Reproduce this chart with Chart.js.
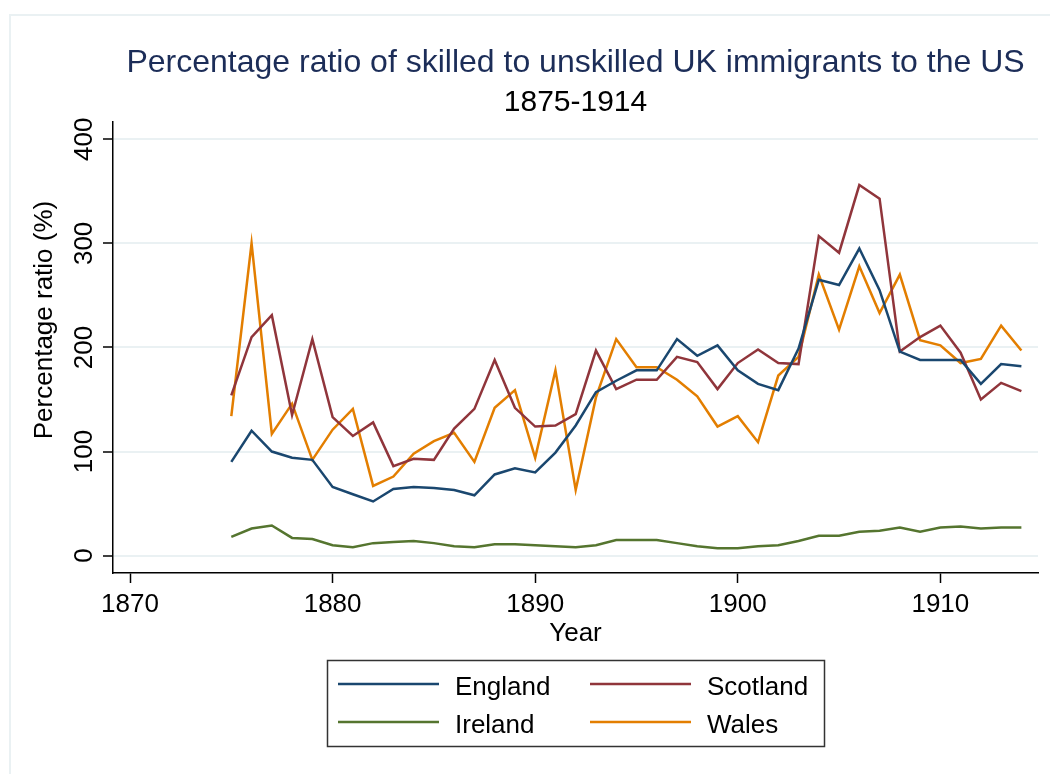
<!DOCTYPE html>
<html>
<head>
<meta charset="utf-8">
<title>Skilled to unskilled UK immigrants</title>
<script src="https://cdn.jsdelivr.net/npm/chart.js@4.4.1/dist/chart.umd.min.js"></script>
<style>
	body { margin: 0; background: #fff; }
	canvas { display: block; }
</style>
</head>
<body>
<canvas id="chart" width="1050" height="774"></canvas>
<script>
/*************************
DATA
*************************/

const years = [1875, 1876, 1877, 1878, 1879, 1880, 1881, 1882, 1883, 1884,
	1885, 1886, 1887, 1888, 1889, 1890, 1891, 1892, 1893, 1894,
	1895, 1896, 1897, 1898, 1899, 1900, 1901, 1902, 1903, 1904,
	1905, 1906, 1907, 1908, 1909, 1910, 1911, 1912, 1913, 1914];

const england = [90, 120, 100, 94, 92, 66, 59, 52, 64, 66,
	65, 63, 58, 78, 84, 80, 99, 125, 157, 168,
	178, 178, 208, 192, 202, 178, 165, 159, 199, 265,
	260, 295, 255, 196, 188, 188, 188, 165, 184, 182];

const scotland = [154, 210, 231, 135, 208, 133, 115, 128, 86, 93,
	92, 122, 141, 188, 142, 124, 125, 136, 197, 160,
	169, 169, 191, 186, 160, 185, 198, 185, 184, 307,
	291, 356, 343, 196, 210, 221, 195, 150, 166, 158];

const ireland = [18, 26, 29, 17, 16, 10, 8, 12, 13, 14,
	12, 9, 8, 11, 11, 10, 9, 8, 10, 15,
	15, 15, 12, 9, 7, 7, 9, 10, 14, 19,
	19, 23, 24, 27, 23, 27, 28, 26, 27, 27];

const wales = [134, 300, 117, 146, 92, 121, 141, 67, 76, 98,
	110, 118, 90, 142, 159, 94, 178, 63, 152, 208,
	181, 181, 169, 153, 124, 134, 109, 173, 191, 270,
	217, 278, 233, 270, 207, 202, 185, 189, 221, 197];

const xTicks = [1870, 1880, 1890, 1900, 1910];
const yTicks = [0, 100, 200, 300, 400];

const titleText = 'Percentage ratio of skilled to unskilled UK immigrants to the US';
const subtitleText = '1875-1914';
const xTitle = 'Year';
const yTitle = 'Percentage ratio (%)';

/*************************
STYLE
*************************/

const fontFamily = '"Liberation Sans", Arial, sans-serif';
const gridColor = '#eaf1f3';
const englandColor = '#1a476f';
const scotlandColor = '#90353b';
const irelandColor = '#55752f';
const walesColor = '#e37e00';

Chart.defaults.font.family = fontFamily;

//pairs a series with the years so the linear x scale can place it
function ToPoints(values){
	return values.map((v, i) => ({x: years[i], y: v}));
}

function MakeDataset(label, values, color){
	return {
		label: label,
		data: ToPoints(values),
		borderColor: color,
		backgroundColor: color,
		borderWidth: 2.5,
		pointRadius: 0,
		tension: 0,
		fill: false,
	};
}

/*************************
DECORATION PLUGIN
*************************/

//frame, titles, rotated y labels and the boxed legend
const decorations = {
	id: 'decorations',
	beforeDraw(chart){
		const ctx = chart.ctx;
		ctx.save();
		ctx.fillStyle = '#fff';
		ctx.fillRect(0, 0, chart.width, chart.height);
		ctx.strokeStyle = gridColor;
		ctx.lineWidth = 2;
		ctx.beginPath();
		ctx.moveTo(10, chart.height + 5);
		ctx.lineTo(10, 15);
		ctx.lineTo(chart.width + 5, 15);
		ctx.stroke();
		ctx.restore();
	},
	afterDraw(chart){
		const ctx = chart.ctx;
		const area = chart.chartArea;
		const yScale = chart.scales.y;
		const midX = (area.left + area.right) / 2;
		ctx.save();

		//titles
		ctx.textAlign = 'center';
		ctx.textBaseline = 'alphabetic';
		ctx.fillStyle = '#1c2d58';
		ctx.font = '32px ' + fontFamily;
		ctx.fillText(titleText, midX, 72);
		ctx.fillStyle = '#000';
		ctx.font = '30px ' + fontFamily;
		ctx.fillText(subtitleText, midX, 111);

		//x axis title
		ctx.font = '26px ' + fontFamily;
		ctx.fillText(xTitle, midX, 641);

		//y tick labels, rotated
		yScale.ticks.forEach(t => {
			const py = yScale.getPixelForValue(t.value);
			ctx.save();
			ctx.translate(92, py);
			ctx.rotate(-Math.PI / 2);
			ctx.textAlign = 'center';
			ctx.fillText(String(t.value), 0, 0);
			ctx.restore();
		});

		//y axis title
		ctx.save();
		ctx.translate(52, 320);
		ctx.rotate(-Math.PI / 2);
		ctx.textAlign = 'center';
		ctx.fillText(yTitle, 0, 0);
		ctx.restore();

		//legend box
		ctx.strokeStyle = '#333';
		ctx.lineWidth = 1.5;
		ctx.strokeRect(327.5, 660.5, 497, 86);
		const slots = [
			{x: 338, y: 684},
			{x: 590, y: 684},
			{x: 338, y: 722},
			{x: 590, y: 722},
		];
		ctx.textAlign = 'left';
		chart.data.datasets.forEach((ds, i) => {
			const s = slots[i];
			ctx.strokeStyle = ds.borderColor;
			ctx.lineWidth = 2.5;
			ctx.beginPath();
			ctx.moveTo(s.x, s.y);
			ctx.lineTo(s.x + 101, s.y);
			ctx.stroke();
			ctx.fillStyle = '#000';
			ctx.fillText(ds.label, s.x + 117, s.y + 11);
		});
		ctx.restore();
	}
};

/*************************
CHART
*************************/

const lineCanvas = document.querySelector('#chart').getContext('2d');

const lineGraph = new Chart(lineCanvas, {
	type: 'line',
	data: {
		datasets: [
			MakeDataset('England', england, englandColor),
			MakeDataset('Scotland', scotland, scotlandColor),
			MakeDataset('Ireland', ireland, irelandColor),
			MakeDataset('Wales', wales, walesColor),
		],
	},
	options: {
		responsive: false,
		animation: false,
		devicePixelRatio: 1,
		layout: {padding: {left: 0, top: 122, right: 12, bottom: 0}},
		plugins: {
			legend: {display: false},
			title: {display: false},
			tooltip: {enabled: false},
		},
		scales: {
			x: {
				type: 'linear',
				min: 1869.16,
				max: 1914.82,
				afterBuildTicks: (scale) => { scale.ticks = xTicks.map(v => ({value: v})); },
				afterFit: (scale) => { scale.height = 201; },
				ticks: {
					color: '#000',
					font: {size: 26},
					padding: 6,
					maxRotation: 0,
					callback: (v) => String(v),
				},
				grid: {
					drawOnChartArea: false,
					drawTicks: true,
					tickLength: 10,
					tickColor: '#000',
					tickWidth: 1.5,
				},
				border: {display: true, color: '#000', width: 1.5},
			},
			y: {
				type: 'linear',
				min: -16.7,
				max: 416.6,
				afterBuildTicks: (scale) => { scale.ticks = yTicks.map(v => ({value: v})); },
				afterFit: (scale) => { scale.width = 113; },
				ticks: {display: false},
				grid: {
					color: gridColor,
					lineWidth: 2,
					drawTicks: true,
					tickLength: 10,
					tickColor: '#000',
					tickWidth: 1.5,
				},
				border: {display: true, color: '#000', width: 1.5},
			},
		},
	},
	plugins: [decorations],
});
</script>
</body>
</html>
